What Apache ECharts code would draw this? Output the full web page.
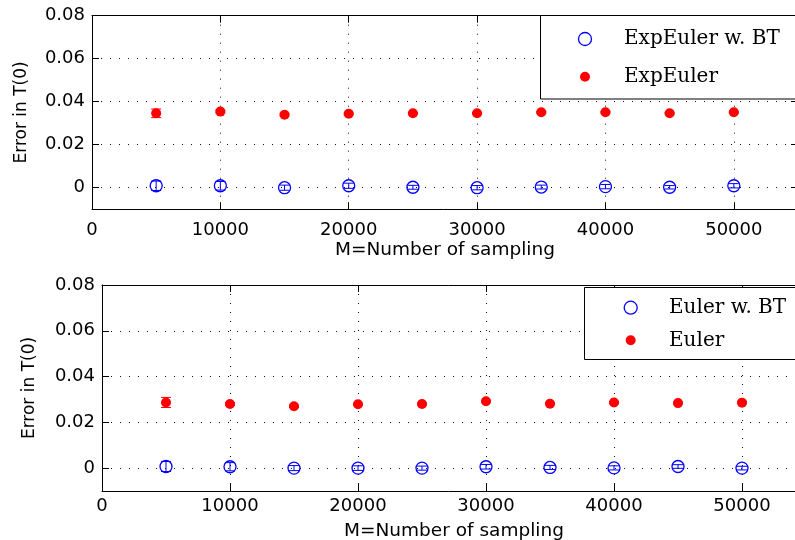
<!DOCTYPE html>
<html><head><meta charset="utf-8">
<script src="https://cdn.jsdelivr.net/npm/echarts@6/dist/echarts.min.js"></script>
<style>html,body{margin:0;padding:0;background:#fff}#c{width:795px;height:540px}</style>
</head><body><div id="c"></div>
<script>
// ---- data ----
const sampleSizes = [5000, 10000, 15000, 20000, 25000, 30000, 35000, 40000, 45000, 50000];
const expEulerBT    = [0.0009, 0.0009, 0.0000, 0.0009, 0.0002, 0.0000, 0.0003, 0.0005, 0.0002, 0.0009];
const expEulerBTErr = [0.0022, 0.0020, 0.0012, 0.0012, 0.0009, 0.0010, 0.0009, 0.0010, 0.0008, 0.0010];
const expEuler      = [0.0346, 0.0354, 0.0339, 0.0344, 0.0346, 0.0346, 0.0351, 0.0351, 0.0346, 0.0351];
const expEulerErr   = [0.0020, 0.0006, 0.0005, 0.0004, 0.0004, 0.0004, 0.0004, 0.0004, 0.0004, 0.0004];
const eulerBT       = [0.0007, 0.0006, 0.0000, 0.0000, 0.0000, 0.0006, 0.0003, 0.0001, 0.0007, 0.0000];
const eulerBTErr    = [0.0022, 0.0018, 0.0011, 0.0010, 0.0009, 0.0010, 0.0009, 0.0009, 0.0008, 0.0008];
const euler         = [0.0287, 0.0280, 0.0270, 0.0279, 0.0280, 0.0292, 0.0281, 0.0287, 0.0284, 0.0286];
const eulerErr      = [0.0022, 0.0006, 0.0005, 0.0004, 0.0004, 0.0004, 0.0004, 0.0004, 0.0004, 0.0004];
const xTickValues = [0, 10000, 20000, 30000, 40000, 50000];
const yTickValues = [0, 0.02, 0.04, 0.06, 0.08];
const xRange = [0, 55000];
const yRange = [-0.01, 0.08];
const xName = 'M=Number of sampling';
const yName = 'Error in T(0)';
const names = ['ExpEuler w. BT', 'ExpEuler', 'Euler w. BT', 'Euler'];

// ---- styling ----
const BLUE = '#0000ff', RED = '#ff0000';
const sans = 'DejaVu Sans';
const serif = 'DejaVu Serif';
const dotted = {color: '#111', width: 1, type: [1, 8]};

function yFmt(v) { return v === 0 ? '0' : v.toFixed(2); }
function xFmt(v) { return String(Math.round(v)); }

function errorBar(capHalf, color) {
  return function (params, api) {
    const x = api.value(0), y = api.value(1), e = api.value(2);
    const hi = api.coord([x, y + e]), lo = api.coord([x, y - e]);
    const style = {stroke: color, lineWidth: 1, fill: null};
    return {type: 'group', children: [
      {type: 'line', shape: {x1: hi[0], y1: hi[1], x2: lo[0], y2: lo[1]}, style: style},
      {type: 'line', shape: {x1: hi[0] - capHalf, y1: hi[1], x2: hi[0] + capHalf, y2: hi[1]}, style: style},
      {type: 'line', shape: {x1: lo[0] - capHalf, y1: lo[1], x2: lo[0] + capHalf, y2: lo[1]}, style: style}
    ]};
  };
}

function triples(vals, errs) { return sampleSizes.map((x, i) => [x, vals[i], errs[i]]); }
function pairs(vals) { return sampleSizes.map((x, i) => [x, vals[i]]); }

function xAxes(gi, labelMargin, nameGap) {
  return [{
    type: 'value', gridIndex: gi, position: 'bottom', min: xRange[0], max: xRange[1],
    name: xName, nameLocation: 'middle', nameGap: nameGap,
    nameTextStyle: {fontFamily: sans, fontSize: 18.5, color: '#000'},
    axisLine: {show: true, onZero: false, lineStyle: {color: '#000', width: 1}},
    axisTick: {show: true, inside: true, length: 7, customValues: xTickValues, lineStyle: {color: '#000'}},
    axisLabel: {customValues: xTickValues, margin: labelMargin, fontFamily: sans, fontSize: 18, color: '#000', formatter: xFmt},
    splitLine: {show: true, lineStyle: dotted}
  }, {
    type: 'value', gridIndex: gi, position: 'top', min: xRange[0], max: xRange[1],
    axisLine: {show: true, onZero: false, lineStyle: {color: '#000', width: 1}},
    axisTick: {show: true, inside: true, length: 7, customValues: xTickValues, lineStyle: {color: '#000'}},
    axisLabel: {show: false}, splitLine: {show: false}
  }];
}
function yAxes(gi, labelMargin, nameGap) {
  return [{
    type: 'value', gridIndex: gi, position: 'left', min: yRange[0], max: yRange[1],
    name: yName, nameLocation: 'middle', nameGap: nameGap,
    nameTextStyle: {fontFamily: sans, fontSize: 17, color: '#000'},
    axisLine: {show: true, onZero: false, lineStyle: {color: '#000', width: 1}},
    axisTick: {show: true, inside: true, length: 7, customValues: yTickValues, lineStyle: {color: '#000'}},
    axisLabel: {customValues: yTickValues, margin: labelMargin, fontFamily: sans, fontSize: 18, color: '#000', formatter: yFmt},
    splitLine: {show: true, lineStyle: dotted}
  }, {
    type: 'value', gridIndex: gi, position: 'right', min: yRange[0], max: yRange[1],
    axisLine: {show: true, onZero: false, lineStyle: {color: '#000', width: 1}},
    axisTick: {show: true, inside: true, length: 7, customValues: yTickValues, lineStyle: {color: '#000'}},
    axisLabel: {show: false}, splitLine: {show: false}
  }];
}

const xa = xAxes(0, 12.5, 31.5).concat(xAxes(1, 6.7, 31));
const ya = yAxes(0, 7, 61.5).concat(yAxes(1, 7, 64));

function scatterHollow(name, xi, yi, vals) {
  return {type: 'scatter', name: name, xAxisIndex: xi, yAxisIndex: yi, data: pairs(vals),
    symbol: 'circle', symbolSize: 12, z: 3,
    itemStyle: {color: 'rgba(0,0,0,0)', borderColor: BLUE, borderWidth: 1.3, opacity: 1}};
}
function scatterFilled(name, xi, yi, vals) {
  return {type: 'scatter', name: name, xAxisIndex: xi, yAxisIndex: yi, data: pairs(vals),
    symbol: 'circle', symbolSize: 10, z: 3,
    itemStyle: {color: RED, borderWidth: 0, opacity: 1}};
}
function errSeries(xi, yi, vals, errs, color, capHalf) {
  return {type: 'custom', name: 'err', xAxisIndex: xi, yAxisIndex: yi, data: triples(vals, errs),
    encode: {x: 0, y: 1}, renderItem: errorBar(capHalf, color), z: 2, silent: true};
}
function errSeriesTop(xi, yi, vals, errs, color, capHalf) {
  const s = errSeries(xi, yi, vals, errs, color, capHalf);
  s.z = 4;
  return s;
}

function legend(left, top, padding, itemWidth, itemGap, n1, n2) {
  return {
    orient: 'vertical', left: left, top: top, padding: padding,
    itemWidth: itemWidth, itemHeight: 13, itemGap: itemGap,
    borderWidth: 0, backgroundColor: 'transparent',
    selectedMode: false, z: 10,
    textStyle: {fontFamily: serif, fontSize: 20, color: '#000', lineHeight: 20},
    data: [
      {name: n1, icon: 'circle', itemStyle: {color: 'rgba(0,0,0,0)', borderColor: BLUE, borderWidth: 1.3, opacity: 1}},
      {name: n2, icon: 'circle', itemStyle: {color: RED, borderColor: '#fff', borderWidth: 3, opacity: 1}}
    ]
  };
}
function legendBox(x, y, w, h) {
  return {type: 'rect', z: 9, shape: {x: x, y: y, width: w, height: h},
    style: {fill: '#fff', stroke: '#000', lineWidth: 1}, silent: true};
}

const chart = echarts.init(document.getElementById('c'), null, {renderer: 'canvas'});
chart.setOption({
  animation: false,
  backgroundColor: '#fff',
  grid: [
    {left: 92, top: 15.7, width: 706, height: 193.5, outerBoundsMode: 'none'},
    {left: 102, top: 285, width: 704, height: 206, outerBoundsMode: 'none'}
  ],
  xAxis: xa,
  yAxis: ya,
  legend: [
    legend(540, 15.7, [13.3, 20, 12.3, 37], 68, 17.7, names[0], names[1]),
    legend(584, 287.3, [10.4, 20, 9, 38.7], 66.6, 12.6, names[2], names[3])
  ],
  graphic: [
    legendBox(540.5, 15.5, 280, 83.5),
    legendBox(584.5, 287.5, 240, 72)
  ],
  series: [
    errSeries(0, 0, expEuler, expEulerErr, RED, 5),
    scatterFilled(names[1], 0, 0, expEuler),
    scatterHollow(names[0], 0, 0, expEulerBT),
    errSeriesTop(0, 0, expEulerBT, expEulerBTErr, BLUE, 5),
    errSeries(2, 2, euler, eulerErr, RED, 5),
    scatterFilled(names[3], 2, 2, euler),
    scatterHollow(names[2], 2, 2, eulerBT),
    errSeriesTop(2, 2, eulerBT, eulerBTErr, BLUE, 5)
  ]
});
</script></body></html>
